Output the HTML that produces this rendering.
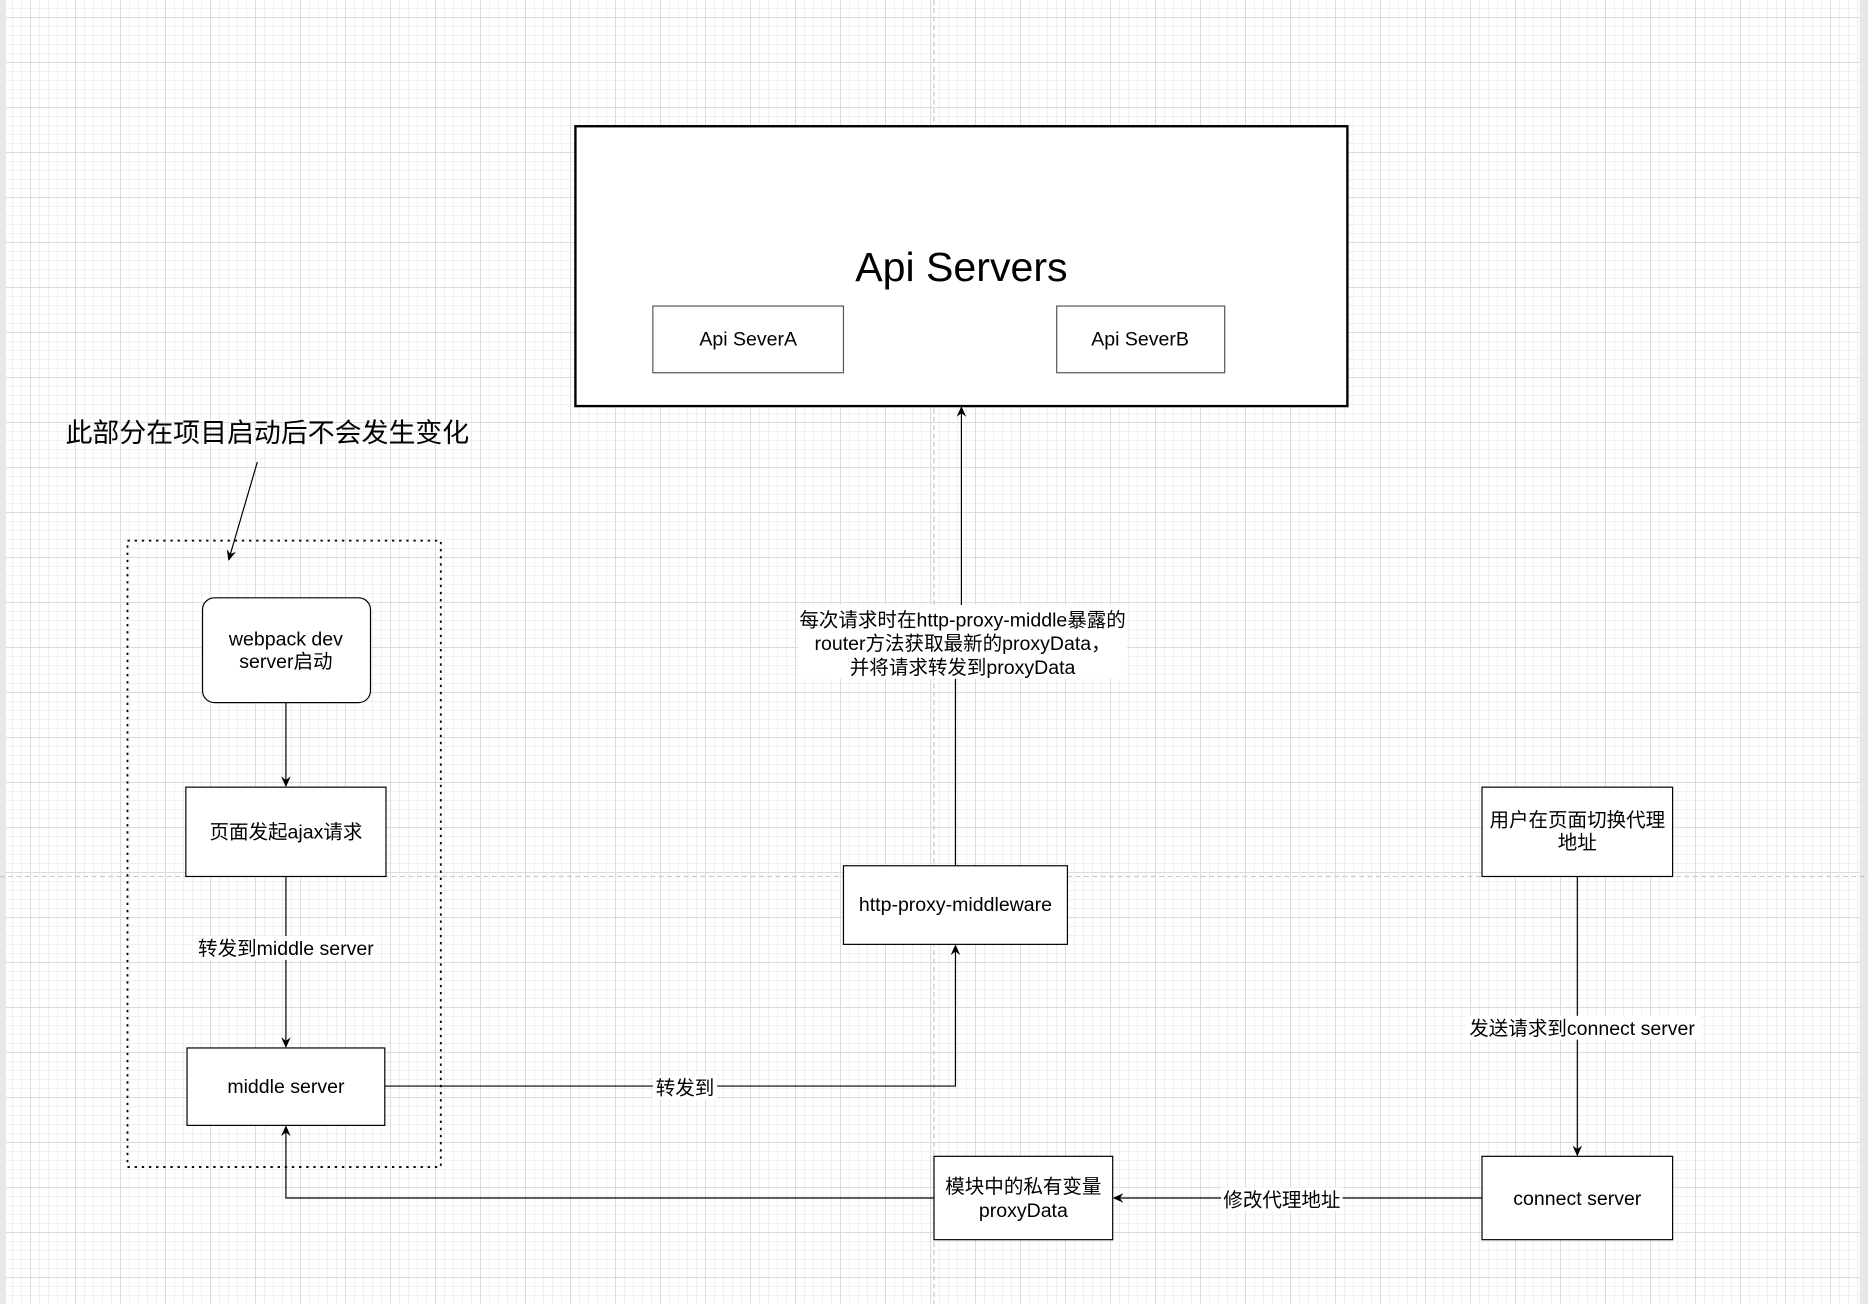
<!DOCTYPE html>
<html><head><meta charset="utf-8"><style>
html,body{margin:0;padding:0;width:1868px;height:1304px;overflow:hidden;background:#fff}
#bg{position:absolute;left:0;top:0;width:1868px;height:1304px;
background-image:
linear-gradient(to right,#dcdcdc 1px,transparent 1px),
linear-gradient(to bottom,#dcdcdc 1px,transparent 1px),
linear-gradient(to right,#f0f0f0 1px,transparent 1px),
linear-gradient(to bottom,#f0f0f0 1px,transparent 1px);
background-size:45px 45px,45px 45px,9px 9px,9px 9px;
background-position:30px 17px,30px 17px,30px 17px,30px 17px;}
svg{position:absolute;left:0;top:0}
text{font-family:"Liberation Sans","Noto Sans CJK SC",sans-serif;fill:#000}
</style></head><body>
<div id="bg"></div>
<svg width="1868" height="1304" viewBox="0 0 1568 1095" preserveAspectRatio="none">
<defs><marker id="a" markerWidth="10" markerHeight="10" refX="8" refY="5" orient="auto" markerUnits="userSpaceOnUse"><path d="M0,1 L9,5 L0,9 L3,5z" fill="#000"/></marker></defs>
<rect x="0" y="0" width="5" height="1095" fill="#e8e8e8"/>
<rect x="1561" y="0" width="7" height="1095" fill="#e8e8e8"/>
<line x1="784" y1="0" x2="784" y2="1095" stroke="#c8c8c8" stroke-dasharray="4,3"/>
<line x1="0" y1="736" x2="1568" y2="736" stroke="#c8c8c8" stroke-dasharray="4,3"/>
<g stroke="#000" fill="#fff" stroke-width="1">
<rect x="483" y="106" width="648" height="235" stroke-width="2"/>
<rect x="548" y="257" width="160" height="56" stroke="#555"/>
<rect x="887" y="257" width="141" height="56" stroke="#555"/>
<rect x="107" y="454" width="263" height="526" fill="none" stroke-dasharray="2,4" stroke-width="1.5"/>
<rect x="170" y="502" width="141" height="88" rx="10"/>
<rect x="156" y="661" width="168" height="75"/>
<rect x="157" y="880" width="166" height="65"/>
<rect x="708" y="727" width="188" height="66"/>
<rect x="1244" y="661" width="160" height="75"/>
<rect x="1244" y="971" width="160" height="70"/>
<rect x="784" y="971" width="150" height="70"/>
</g>
<g stroke="#000" fill="none" stroke-width="1">
<line x1="216" y1="388" x2="192" y2="470" marker-end="url(#a)"/>
<line x1="240" y1="590" x2="240" y2="660" marker-end="url(#a)"/>
<line x1="240" y1="736" x2="240" y2="879" marker-end="url(#a)"/>
<polyline points="323,912 802,912 802,794" marker-end="url(#a)"/>
<polyline points="802,727 802,560 807,560 807,342" marker-end="url(#a)"/>
<line x1="1324" y1="736" x2="1324" y2="970" marker-end="url(#a)"/>
<line x1="1244" y1="1006" x2="935" y2="1006" marker-end="url(#a)"/>
<polyline points="784,1006 240,1006 240,946" marker-end="url(#a)"/>
</g>
<rect x="670" y="508" width="276" height="62" fill="#fff"/>
<rect x="163" y="786" width="154" height="20" fill="#fff"/>
<rect x="548" y="903" width="54" height="20" fill="#fff"/>
<rect x="1230" y="853" width="198" height="20" fill="#fff"/>
<rect x="1025" y="997" width="102" height="20" fill="#fff"/>
<g font-size="16.4" text-anchor="middle">
<text x="807" y="236" font-size="34.5">Api Servers</text>
<text x="628" y="290">Api SeverA</text>
<text x="957" y="290">Api SeverB</text>
<text x="55" y="371" font-size="22.6" text-anchor="start">此部分在项目启动后不会发生变化</text>
<text x="240" y="542">webpack dev</text>
<text x="240" y="561">server启动</text>
<text x="240" y="704">页面发起ajax请求</text>
<text x="240" y="802">转发到middle server</text>
<text x="240" y="918">middle server</text>
<text x="575" y="919">转发到</text>
<text x="802" y="765">http-proxy-middleware</text>
<text x="808" y="526">每次请求时在http-proxy-middle暴露的</text>
<text x="808" y="546">router方法获取最新的proxyData，</text>
<text x="808" y="566">并将请求转发到proxyData</text>
<text x="1324" y="694">用户在页面切换代理</text>
<text x="1324" y="713">地址</text>
<text x="1328" y="869">发送请求到connect server</text>
<text x="1324" y="1012">connect server</text>
<text x="1076" y="1013">修改代理地址</text>
<text x="859" y="1002">模块中的私有变量</text>
<text x="859" y="1022">proxyData</text>
</g>
</svg>
</body></html>
